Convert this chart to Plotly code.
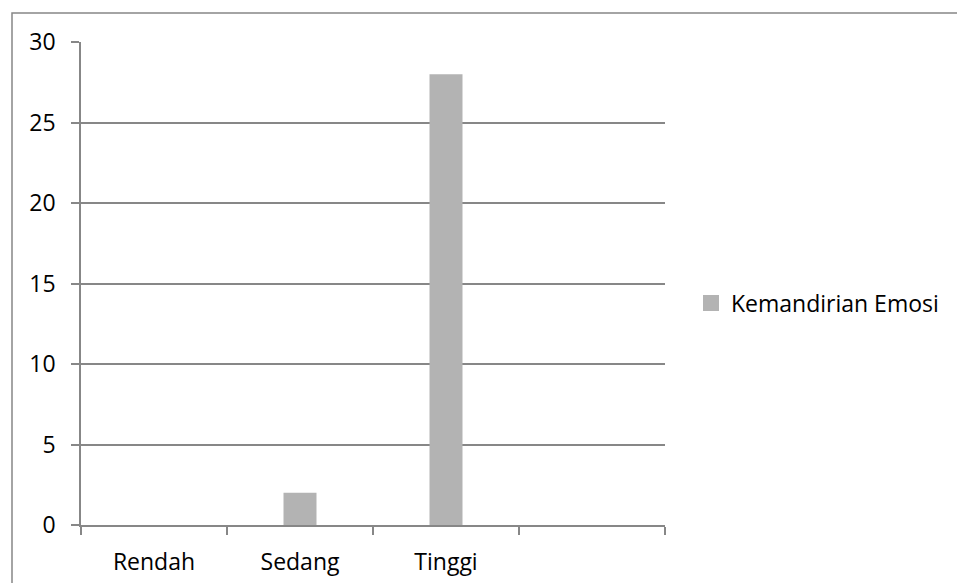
import plotly.graph_objects as go

categories = ["Rendah", "Sedang", "Tinggi", " "]
values = [0, 2, 28, None]
series_name = "Kemandirian Emosi"
y_ticks = [0, 5, 10, 15, 20, 25, 30]

BAR = "#b3b3b3"
GRID = "#878787"
FONT = dict(family="Open Sans", size=23, color="#000000")

W, H = 957, 583
L, R, T, B = 81, W - 665, 42, H - 525
pw, ph = W - L - R, H - T - B

fig = go.Figure()
fig.add_trace(go.Bar(
    x=categories, y=values, width=0.226,
    marker=dict(color=BAR, line=dict(width=0)),
    showlegend=False, name=series_name,
))
# legend entry (larger square symbol like the reference)
fig.add_trace(go.Scatter(
    x=[None], y=[None], mode="markers", name=series_name,
    marker=dict(symbol="square", size=16, color=BAR, line=dict(width=0)),
))

def px_x(x):
    return (x - L) / pw

def px_y(y):
    return (H - B - y) / ph

fig.add_shape(type="rect", xref="paper", yref="paper",
              x0=px_x(12), x1=px_x(962), y0=px_y(13), y1=px_y(600),
              line=dict(color=GRID, width=1.5), fillcolor="rgba(0,0,0,0)", layer="below")

fig.update_layout(
    width=W, height=H,
    margin=dict(l=L, r=R, t=T, b=B, pad=0, autoexpand=False),
    paper_bgcolor="white", plot_bgcolor="white",
    font=FONT,
    showlegend=True,
    legend=dict(x=px_x(691), y=px_y(303), xanchor="left", yanchor="middle",
                font=FONT, bgcolor="rgba(0,0,0,0)", borderwidth=0),
    xaxis=dict(
        type="category", categoryorder="array", categoryarray=categories,
        range=[-0.5, 3.5], tickson="boundaries",
        ticks="outside", ticklen=8, tickwidth=1.5, tickcolor=GRID,
        showline=True, linecolor=GRID, linewidth=1.5,
        showgrid=False, zeroline=False, fixedrange=True,
        ticklabelstandoff=16, automargin=False,
    ),
    yaxis=dict(
        range=[0, 30], tickvals=y_ticks,
        ticks="outside", ticklen=8, tickwidth=1.5, tickcolor=GRID,
        showline=True, linecolor=GRID, linewidth=1.5,
        showgrid=True, gridcolor=GRID, gridwidth=1.5,
        zeroline=False, fixedrange=True,
        ticklabelstandoff=11, automargin=False,
    ),
)

fig.write_html("out.html")
